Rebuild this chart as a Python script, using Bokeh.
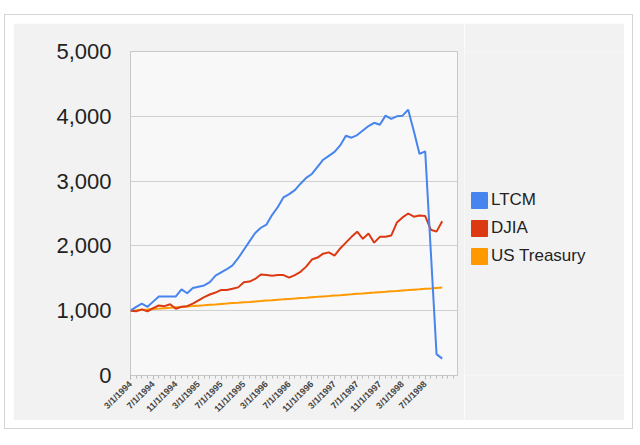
from bokeh.plotting import figure
from bokeh.models import (Range1d, FixedTicker, NumeralTickFormatter, Legend, LegendItem, Spacer)
from bokeh.layouts import row, column
from bokeh.embed import file_html
from bokeh.resources import INLINE
from math import pi

# Monthly values, index 0 = 3/1/1994 (growth of $1,000)
ltcm = [1000, 1060, 1110, 1060, 1140, 1220, 1220, 1220, 1220, 1330,
        1270, 1350, 1370, 1390, 1440, 1540, 1590, 1640, 1700, 1810,
        1940, 2070, 2200, 2280, 2330, 2480, 2600, 2750, 2800, 2860,
        2960, 3050, 3110, 3220, 3330, 3390, 3450, 3550, 3700, 3670,
        3710, 3780, 3850, 3900, 3870, 4010, 3960, 4000, 4010, 4100,
        3770, 3420, 3460, 1900, 330, 260]
djia = [1000, 990, 1020, 990, 1040, 1080, 1070, 1100, 1030, 1060,
        1070, 1110, 1160, 1210, 1250, 1280, 1320, 1320, 1340, 1360,
        1440, 1450, 1490, 1560, 1550, 1540, 1550, 1550, 1510, 1550,
        1600, 1680, 1790, 1820, 1880, 1900, 1850, 1960, 2050, 2140,
        2220, 2110, 2190, 2050, 2140, 2140, 2160, 2360, 2440, 2500,
        2450, 2470, 2460, 2250, 2220, 2380]
treasury = [1000, 1006, 1013, 1019, 1026, 1032, 1039, 1045, 1052, 1058,
            1065, 1071, 1078, 1084, 1091, 1097, 1104, 1110, 1117, 1123,
            1130, 1136, 1143, 1149, 1156, 1162, 1169, 1175, 1182, 1188,
            1195, 1201, 1208, 1214, 1221, 1227, 1234, 1240, 1247, 1253,
            1260, 1266, 1273, 1279, 1286, 1292, 1299, 1305, 1312, 1318,
            1325, 1331, 1338, 1344, 1351, 1357]
month_index = list(range(len(ltcm)))

tick_positions = [0, 4, 8, 12, 16, 20, 24, 28, 32, 36, 40, 44, 48, 52]
tick_labels = ["3/1/1994", "7/1/1994", "11/1/1994", "3/1/1995", "7/1/1995",
               "11/1/1995", "3/1/1996", "7/1/1996", "11/1/1996", "3/1/1997",
               "7/1/1997", "11/1/1997", "3/1/1998", "7/1/1998"]
series_names = ["LTCM", "DJIA", "US Treasury"]
series_colors = ["#4684ee", "#dc3912", "#ff9900"]
series = [ltcm, djia, treasury]

PANEL = "#f2f2f2"

p = figure(width=451, height=397, output_backend="svg", toolbar_location=None,
           x_range=Range1d(0, 57.7), y_range=Range1d(0, 5000),
           min_border_left=117, min_border_right=7, min_border_top=28, min_border_bottom=45)
p.border_fill_color = PANEL
p.background_fill_color = "#f8f8f8"
p.outline_line_color = "#c8c8c8"

for vals, col in zip(series[::-1], series_colors[::-1]):
    p.line(month_index, vals, line_color=col, line_width=2)

p.xgrid.grid_line_color = None
p.ygrid.grid_line_color = "#d0d0d0"
p.ygrid.ticker = FixedTicker(ticks=[1000, 2000, 3000, 4000, 5000])

p.yaxis.ticker = FixedTicker(ticks=[0, 1000, 2000, 3000, 4000, 5000])
p.yaxis.formatter = NumeralTickFormatter(format="0,0")
p.yaxis.axis_line_color = None
p.yaxis.major_tick_line_color = None
p.yaxis.minor_tick_line_color = None
p.yaxis.major_label_standoff = 13
p.yaxis.major_label_text_font = "Liberation Sans"
p.yaxis.major_label_text_font_size = "22px"
p.yaxis.major_label_text_color = "#222222"

p.xaxis.ticker = FixedTicker(ticks=tick_positions, minor_ticks=month_index + [56, 57])
p.xaxis.major_label_overrides = {t: l for t, l in zip(tick_positions, tick_labels)}
p.xaxis.major_label_orientation = pi / 4
p.xaxis.axis_line_color = "#c8c8c8"
p.xaxis.major_tick_in = 0
p.xaxis.major_tick_out = 4
p.xaxis.minor_tick_in = 0
p.xaxis.minor_tick_out = 3
p.xaxis.major_tick_line_color = "#aaaaaa"
p.xaxis.minor_tick_line_color = "#bbbbbb"
p.xaxis.major_label_standoff = 3
p.xaxis.major_label_text_font = "Liberation Sans"
p.xaxis.major_label_text_font_size = "9px"
p.xaxis.major_label_text_font_style = "bold"
p.xaxis.major_label_text_color = "#444444"

# legend panel to the right of the chart (its frame is aligned with the chart's frame)
leg = figure(width=160, height=397, output_backend="svg", toolbar_location=None,
             x_range=Range1d(-1000, -999), y_range=Range1d(-1000, -999),
             min_border=0)
leg.axis.visible = False
leg.grid.visible = False
leg.border_fill_color = PANEL
leg.background_fill_color = PANEL
leg.outline_line_color = None
items = []
for name, vals, col in zip(series_names, series, series_colors):
    r = leg.quad(left=month_index, right=month_index, top=vals, bottom=vals,
                 fill_color=col, line_color=col)
    items.append(LegendItem(label=name, renderers=[r]))
legend = Legend(items=items, location=(5, 109), padding=0, margin=0,
                glyph_width=20, glyph_height=20, label_height=20, spacing=8,
                label_standoff=2, border_line_alpha=0, background_fill_alpha=0,
                label_text_font="Liberation Sans", label_text_font_size="17px",
                label_text_color="#222222")
leg.add_layout(legend)

inner = row(p, leg, styles={"outline": "1px solid #d4d4d4", "outline-offset": "8px"})
layout = column(Spacer(height=23, width=10), row(Spacer(width=13, height=10), inner))

open("out.html", "w").write(file_html(layout, INLINE))
